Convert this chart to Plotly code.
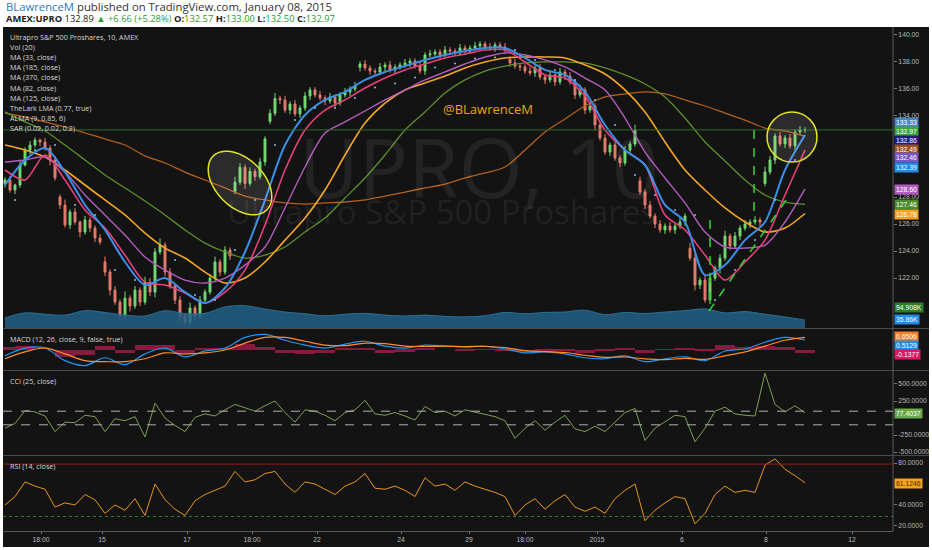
import math
import plotly.graph_objects as go

# ---------------- data ----------------
close = [129.26,128.52,128.89,130.37,131.48,131.85,132.22,132.07,131.63,130.74,
         129.41,127.41,125.93,126.89,126.15,125.41,126.30,125.70,124.96,124.67,
         122.44,121.11,120.22,119.19,120.52,119.93,121.11,120.22,121.70,120.96,
         123.93,124.44,122.44,121.41,120.37,119.19,118.74,119.78,119.19,120.37,
         120.96,122.00,123.19,122.44,124.07,123.63,129.10,130.20,129.00,129.90,
         129.50,130.60,132.30,134.20,135.30,135.19,134.44,134.89,134.15,134.59,
         135.48,135.93,135.56,135.33,135.11,135.41,134.96,135.56,135.78,136.00,
         136.22,137.85,137.56,137.33,137.26,137.63,137.78,137.41,137.63,137.78,
         137.93,138.07,137.70,137.33,138.52,138.59,138.74,138.52,138.89,138.81,
         138.67,139.04,138.81,139.04,139.19,139.33,139.11,139.04,139.26,139.11,
         138.89,137.93,137.70,137.63,137.33,137.19,137.56,136.89,136.67,137.04,
         136.52,137.26,136.96,136.52,135.56,135.93,134.44,134.74,133.33,132.37,
         131.33,131.85,130.89,130.52,131.48,131.93,132.96,128.37,127.41,126.59,
         126.00,125.56,125.85,125.56,125.85,126.15,126.59,123.48,121.48,121.85,
         120.37,122.00,122.74,123.48,125.11,124.37,125.11,125.70,126.00,126.15,
         126.30,126.15,129.85,130.74,132.52,131.93,132.37,131.78,132.81,132.96,
         132.97]
first_open = 129.0
gap_open = {11: 128.0, 20: 123.2, 46: 128.4, 53: 133.6, 71: 137.6,
            101: 138.2, 127: 129.2, 137: 124.2, 152: 129.0}
wick_up = [0.2,0.3,0.1,0.4,0.2,0.3,0.2,0.1,0.3,0.2, 0.3,0.2,0.4,0.2,0.3,0.1,0.3,0.2,0.2,0.3,
           0.4,0.2,0.3,0.2,0.5,0.2,0.3,0.2,0.4,0.3, 0.3,0.5,0.2,0.3,0.2,0.3,0.2,0.4,0.2,0.3,
           0.2,0.3,0.4,0.2,0.3,0.2,0.4,0.3,0.2,0.3, 0.2,0.3,0.2,0.3,0.4,0.2,0.3,0.2,0.3,0.2,
           0.3,0.2,0.2,0.3,0.2,0.3,0.2,0.2,0.3,0.2, 0.3,0.2,0.3,0.2,0.2,0.3,0.2,0.3,0.2,0.2,
           0.3,0.2,0.2,0.3,0.2,0.3,0.2,0.2,0.3,0.2, 0.2,0.3,0.2,0.2,0.3,0.2,0.2,0.3,0.2,0.2,
           0.3,0.2,0.3,0.2,0.2,0.3,0.2,0.3,0.2,0.3, 0.2,0.3,0.2,0.3,0.2,0.4,0.2,0.3,0.2,0.3,
           0.3,0.2,0.4,0.2,0.3,0.2,0.4,0.3,0.2,0.3, 0.2,0.3,0.2,0.3,0.2,0.3,0.2,0.4,0.3,0.2,
           0.3,0.4,0.2,0.3,0.4,0.2,0.3,0.2,0.3,0.2, 0.3,0.2,0.4,0.3,0.2,0.3,0.2,0.3,0.2,0.3,
           0.2]
wick_dn = [0.3,0.2,0.3,0.2,0.1,0.3,0.2,0.3,0.2,0.4, 0.2,0.3,0.2,0.3,0.2,0.4,0.2,0.3,0.3,0.2,
           0.3,0.4,0.2,0.3,0.2,0.4,0.2,0.3,0.2,0.3, 0.4,0.2,0.3,0.2,0.3,0.4,0.3,0.2,0.3,0.2,
           0.3,0.2,0.2,0.3,0.2,0.3,0.2,0.2,0.4,0.2, 0.3,0.2,0.3,0.2,0.2,0.3,0.2,0.3,0.2,0.3,
           0.2,0.3,0.2,0.2,0.3,0.2,0.3,0.2,0.2,0.3, 0.2,0.3,0.2,0.3,0.2,0.2,0.3,0.2,0.3,0.2,
           0.2,0.3,0.2,0.2,0.3,0.2,0.2,0.3,0.2,0.3, 0.2,0.2,0.3,0.2,0.2,0.3,0.2,0.2,0.3,0.2,
           0.2,0.3,0.2,0.3,0.2,0.2,0.3,0.2,0.3,0.2, 0.3,0.2,0.3,0.2,0.3,0.2,0.3,0.2,0.4,0.2,
           0.2,0.3,0.2,0.3,0.2,0.3,0.2,0.2,0.3,0.2, 0.3,0.2,0.3,0.2,0.3,0.2,0.3,0.2,0.4,0.3,
           0.2,0.3,0.2,0.4,0.2,0.3,0.2,0.3,0.2,0.3, 0.2,0.3,0.2,0.2,0.3,0.2,0.3,0.2,0.3,0.2,
           0.2]

# moving averages sampled every 4 bars
ma_orange = [131.85,131.48,130.96,130.00,128.89,127.78,126.67,125.33,124.22,123.48,122.44,121.63,122.00,
             123.19,124.81,126.44,128.52,131.11,133.48,134.96,135.93,136.44,136.96,137.56,138.00,138.30,
             138.37,138.37,138.30,137.78,137.11,135.93,134.30,132.07,130.00,128.52,127.19,126.15,125.41,
             125.70,126.78]
ma_green = [134.30,133.56,132.89,131.85,130.74,129.63,128.67,127.70,126.67,125.56,124.59,123.93,123.48,
            123.70,124.30,125.41,126.44,127.93,129.41,131.11,132.96,134.30,135.70,136.67,137.33,137.70,
            137.93,138.00,138.00,137.93,137.56,137.04,136.37,135.41,133.85,132.07,130.67,129.26,128.15,
            127.63,127.46]
ma_brown = [134.22,133.93,133.56,133.19,132.74,132.30,131.85,131.04,130.52,129.85,129.26,128.67,128.07,
            127.78,127.56,127.48,127.56,127.63,127.78,128.07,128.37,128.67,128.96,129.41,129.78,130.22,
            131.48,132.81,133.78,134.74,135.41,135.63,135.78,135.63,135.19,134.74,134.22,133.70,133.11,
            132.89,132.49]
ma_purple = [130.59,130.74,130.96,129.85,128.15,126.67,125.19,123.56,122.59,121.85,121.63,122.00,122.96,
             124.30,127.19,130.22,132.74,133.56,134.37,135.19,135.93,136.67,137.26,137.85,138.37,138.67,
             138.52,138.15,137.63,136.81,135.93,133.85,131.33,129.41,127.56,125.41,124.30,124.22,124.44,
             126.15,128.60]
lma_blue = [128.89,130.74,131.63,129.85,127.41,125.56,123.19,121.48,122.00,120.96,120.15,121.26,123.93,
            127.78,131.85,134.07,135.19,135.78,136.67,137.26,137.70,138.15,138.52,138.81,139.04,139.04,
            138.30,137.41,137.04,135.78,133.33,131.48,130.37,127.41,126.15,122.22,122.96,124.81,126.15,
            130.00,132.59]
ma_pink = [130.00,129.26,131.11,129.26,127.04,125.70,123.70,121.70,121.48,120.89,120.15,120.96,122.59,
           125.93,130.00,132.96,134.44,135.19,136.07,136.81,137.41,137.85,138.30,138.59,138.89,138.89,
           138.00,137.04,136.81,135.48,132.96,131.48,130.37,126.67,125.56,123.70,121.85,123.19,124.81,
           128.15,131.48]
sar = [127.78,131.48,131.85,127.41,126.67,122.59,121.85,121.11,123.33,120.74,120.37,124.07,127.78,
       131.85,133.70,134.59,134.59,135.33,136.11,136.41,136.85,137.59,137.89,138.26,138.33,138.89,
       138.15,137.41,136.67,135.19,133.33,129.63,128.15,127.04,126.67,120.37,122.59,124.81,127.78,
       130.74]
vol_ma_k = [45,68,62,58,78,70,58,54,78,65,66,95,100,85,72,64,55,62,66,58,54,58,52,50,55,70,64,70,72,
            80,60,70,65,72,78,86,68,74,62,50,35.86]

macd = [-0.3,0.1,0.1,-0.55,-0.8,-0.4,-0.75,-0.2,0.1,-0.35,-0.05,0.1,0.65,0.8,0.5,0.25,0.1,0.3,0.45,0.2,
        0.1,0.25,0.2,0.15,0.2,0.05,-0.15,-0.1,-0.2,-0.4,-0.45,-0.3,-0.6,-0.45,-0.35,-0.55,-0.05,0.05,
        0.4,0.65,0.5129]
signal = [-0.45,-0.1,0.1,-0.2,-0.55,-0.6,-0.6,-0.45,-0.15,-0.2,-0.15,0.0,0.35,0.65,0.65,0.45,0.25,0.22,
          0.35,0.33,0.2,0.18,0.2,0.18,0.18,0.12,-0.03,-0.08,-0.13,-0.27,-0.38,-0.36,-0.46,-0.5,-0.43,
          -0.48,-0.3,-0.1,0.2,0.5,0.6506]

cci = [-150,-80,110,90,30,-200,-60,-70,40,20, -200,-10,-40,20,-280,220,0,-110,-200,10,
       60,30,120,200,150,100,180,250,80,-60, 120,100,40,-40,80,120,260,60,40,80,
       30,-30,170,80,100,30,120,90,60,20, -40,-300,-150,-40,-180,-60,40,-160,-200,-120,
       -200,-60,80,140,-330,-150,-60,40,20,-350, -150,100,160,60,40,30,660,200,90,180,
       77.4037]
rsi = [40,48,62,58,55,38,42,40,50,45, 32,40,35,46,30,60,45,36,30,44,
       50,54,58,72,62,64,70,72,60,52, 62,60,55,50,58,62,70,56,55,58,
       54,48,66,58,60,54,62,58,55,52, 48,30,40,46,36,44,50,38,34,38,
       32,46,54,60,25,35,42,48,46,22, 32,50,58,52,54,52,78,84,74,68,
       61.1246]

tick_pos = [7.2, 19.4, 36.4, 49.4, 62.4, 79.2, 92.8, 104.0, 118.4, 135.4, 152.2, 169.4]
tick_text = ["18:00", "15", "17", "18:00", "22", "24", "29", "18:00", "2015", "6", "8", "12"]

# ---------------- derived ----------------
bars = list(range(len(close)))
ma_x = list(range(0, len(close), 4))
sar_x = list(range(2, len(close), 4))
osc_x = list(range(0, len(close), 2))
opens = []
for i, c in enumerate(close):
    if i == 0:
        opens.append(first_open)
    elif i in gap_open:
        opens.append(gap_open[i])
    else:
        opens.append(close[i - 1])
highs = [max(o, c) + w for o, c, w in zip(opens, close, wick_up)]
lows = [min(o, c) - w for o, c, w in zip(opens, close, wick_dn)]
hist = [m - s for m, s in zip(macd, signal)]

# ---------------- layout helpers ----------------
W, H = 932, 550
L, R, T, B = 3, 39, 27, 19
PW, PH = W - L - R, H - T - B
def px_x(p):
    return (p - L) / PW
def px_y(p):
    return (H - B - p) / PH

BAR_PX = 5.0
PRICE_PX = 13.5
def ellipse_path(cx, cy, a, b, ang_deg):
    ang = math.radians(ang_deg)
    pts = []
    for k in range(73):
        t = 2 * math.pi * k / 72
        dx, dy = a * math.cos(t), b * math.sin(t)
        rx = dx * math.cos(ang) - dy * math.sin(ang)
        ry = dx * math.sin(ang) + dy * math.cos(ang)
        pts.append((cx + rx / BAR_PX, cy - ry / PRICE_PX))
    return "M " + " L ".join(f"{x:.3f},{y:.3f}" for x, y in pts) + " Z"

AX_FONT = dict(family="Liberation Sans, Arial", size=6.8, color="#b8b8b8")
TXT_FONT = "Open Sans, Liberation Sans, Arial"

fig = go.Figure()

fig.add_trace(go.Scatter(x=ma_x, y=vol_ma_k, yaxis="y5", mode="lines", line=dict(color="#2a6f96", width=1, shape="spline"),
                         fill="tozeroy", fillcolor="rgba(34,96,135,0.85)", hoverinfo="skip"))

for ys, col, w in [(ma_brown, "#b5601c", 1.3), (ma_green, "#5e8f2c", 1.3), (ma_orange, "#f5a623", 1.6),
                   (ma_purple, "#b45cc0", 1.4), (ma_pink, "#e8407c", 1.6), (lma_blue, "#3b8fe8", 2.0)]:
    fig.add_trace(go.Scatter(x=ma_x, y=ys, mode="lines", line=dict(color=col, width=w, shape="spline", smoothing=0.8),
                             hoverinfo="skip"))
fig.add_trace(go.Scatter(x=sar_x, y=sar, mode="markers", marker=dict(color="#8fb8dc", size=2), hoverinfo="skip"))

fig.add_trace(go.Candlestick(x=bars, open=opens, high=highs, low=lows, close=close,
                             increasing=dict(line=dict(color="#72d872", width=1), fillcolor="#72d872"),
                             decreasing=dict(line=dict(color="#e67c6b", width=1), fillcolor="#e67c6b"),
                             whiskerwidth=0, hoverinfo="skip"))

fig.add_trace(go.Bar(x=ma_x, y=hist, yaxis="y2", marker=dict(color="#e91e63", line=dict(width=0)), width=4.0,
                     opacity=0.55, hoverinfo="skip"))
fig.add_trace(go.Scatter(x=ma_x, y=macd, yaxis="y2", mode="lines", line=dict(color="#2196f3", width=1.2, shape="spline"),
                         hoverinfo="skip"))
fig.add_trace(go.Scatter(x=ma_x, y=signal, yaxis="y2", mode="lines", line=dict(color="#ff8c29", width=1.2, shape="spline"),
                         hoverinfo="skip"))
fig.add_trace(go.Scatter(x=osc_x, y=cci, yaxis="y3", mode="lines", line=dict(color="#7f9f50", width=1),
                         hoverinfo="skip"))
fig.add_trace(go.Scatter(x=osc_x, y=rsi, yaxis="y4", mode="lines", line=dict(color="#e8951f", width=1),
                         hoverinfo="skip"))

shapes = []
shapes.append(dict(type="rect", xref="paper", yref="paper", x0=px_x(3), x1=px_x(929), y0=px_y(547), y1=px_y(27),
                   fillcolor="#131313", line=dict(width=0), layer="below"))
for p in [328.5, 370.5, 455.5]:
    shapes.append(dict(type="line", xref="paper", yref="paper", x0=px_x(3), x1=px_x(929), y0=px_y(p), y1=px_y(p),
                       line=dict(color="#4a4a4a", width=1)))
shapes.append(dict(type="line", xref="paper", yref="paper", x0=1, x1=1, y0=0, y1=1, line=dict(color="#5a5a5a", width=1)))
shapes.append(dict(type="line", xref="paper", yref="y", x0=0, x1=1, y0=132.97, y1=132.97, line=dict(color="#2f6a2a", width=1)))
for v in [100, -100]:
    shapes.append(dict(type="line", xref="paper", yref="y3", x0=0, x1=1, y0=v, y1=v,
                       line=dict(color="#b0b0b0", width=1, dash="dash")))
shapes.append(dict(type="line", xref="paper", yref="y4", x0=0, x1=1, y0=79, y1=79, line=dict(color="#a01818", width=1)))
shapes.append(dict(type="line", xref="paper", yref="y4", x0=0, x1=1, y0=29, y1=29,
                   line=dict(color="#2e7d32", width=1, dash="dot")))
shapes.append(dict(type="path", xref="x", yref="y", path=ellipse_path(47.0, 129.04, 38, 24, 45),
                   fillcolor="rgba(255,255,255,0.10)", line=dict(color="#e3e32a", width=1.5)))
shapes.append(dict(type="circle", xref="x", yref="y", x0=152.4, x1=162.4, y0=130.59, y1=134.29,
                   fillcolor="rgba(255,255,255,0.10)", line=dict(color="#e3e32a", width=1.5)))
for x0, y0, x1, y1 in [(141.0, 126.3, 141.0, 120.0), (149.8, 132.96, 149.8, 126.15), (140.8, 119.56, 157.1, 128.24)]:
    shapes.append(dict(type="line", xref="x", yref="y", x0=x0, y0=y0, x1=x1, y1=y1,
                       line=dict(color="#33cc33", width=1.6, dash="dash")))

ann = []
def note(xp, yp, text, size, color, xanchor="left", family=TXT_FONT, **kw):
    ann.append(dict(xref="paper", yref="paper", x=px_x(xp), y=px_y(yp), xanchor=xanchor, yanchor="middle",
                    showarrow=False, text=text, font=dict(family=family, size=size, color=color), **kw))

note(4, 7, '<span style="color:#2a78c8">BLawrenceM</span> published on TradingView.com, January 08, 2015', 11.3, "#333333")
g = "#2e9e2e"
note(4, 18, (f'<b>AMEX:UPRO</b> 132.89 <span style="color:{g}">▲ +6.66 (+5.28%)</span> '
             f'<b>O:</b><span style="color:{g}">132.57</span> <b>H:</b><span style="color:{g}">133.00</span> '
             f'<b>L:</b><span style="color:{g}">132.50</span> <b>C:</b><span style="color:{g}">132.97</span>'),
     9.4, "#222222")
legend_lines = ["Ultrapro S&P 500 Proshares, 10, AMEX", "Vol (20)", "MA (33, close)", "MA (185, close)",
                "MA (370, close)", "MA (82, close)", "MA (125, close)", "TheLark LMA (0.77, true)",
                "ALMA (9, 0.85, 6)", "SAR (0.02, 0.02, 0.2)"]
for k, t in enumerate(legend_lines):
    note(8, 37 + 10.1 * k, t, 7.2, "#d6d6d6")
for t, p in [("MACD (12, 26, close, 9, false, true)", 339), ("CCI (25, close)", 381), ("RSI (14, close)", 466)]:
    note(8, p, t, 7.2, "#d6d6d6")
note(479, 166, "UPRO, 10", 82, "rgba(255,255,255,0.07)", xanchor="center")
note(441, 211, "Ultrapro S&P 500 Proshares", 33, "rgba(255,255,255,0.07)", xanchor="center")
note(488, 109, "@BLawrenceM", 13, "#e8a317", xanchor="center")

labels = [("133.33", "#4b84c4", "white", 122), ("132.97", "#3aa53f", "white", 131), ("132.86", "#1a1f80", "white", 140),
          ("132.49", "#9c5220", "white", 149), ("132.46", "#7a55c4", "white", 158), ("132.39", "#1e8ce8", "white", 167),
          ("128.60", "#b25ec0", "white", 190), ("127.46", "#4d8a2a", "white", 205), ("126.78", "#f7a21f", "white", 214),
          ("94.908K", "#2a7f2a", "white", 307), ("35.86K", "#1e8ce8", "white", 320),
          ("0.6506", "#f58025", "white", 336), ("0.5129", "#1e8ce8", "white", 345), ("-0.1377", "#e0185f", "white", 354),
          ("77.4037", "#6aa84f", "white", 413), ("61.1246", "#f5a21c", "#4a2a00", 483)]
for t, bg, fc, p in labels:
    note(893.5, p, t, 6.8, fc, family="Liberation Sans, Arial", bgcolor=bg, borderpad=1)

def yax(domain, rng, tv=None, tt=None):
    d = dict(domain=domain, range=rng, anchor="x", side="right", showgrid=False, zeroline=False,
             fixedrange=True, tickfont=AX_FONT, ticks="outside" if tv else "", ticklen=3, tickcolor="#777")
    if tv:
        d.update(tickmode="array", tickvals=tv, ticktext=tt)
    else:
        d.update(showticklabels=False)
    return d

main_dom = [px_y(328), 1]
fig.update_layout(
    width=W, height=H, margin=dict(l=L, r=R, t=T, b=B),
    paper_bgcolor="#ffffff", plot_bgcolor="#131313", showlegend=False, boxgap=0.45,
    xaxis=dict(domain=[0, 1], anchor="y4", range=[-0.4, (W - R - 5) / 5.0], rangeslider=dict(visible=False),
               showgrid=False, zeroline=False, showline=True, linecolor="#5a5a5a", ticks="outside", ticklen=2,
               tickcolor="#777", tickmode="array", tickvals=tick_pos, ticktext=tick_text, tickfont=AX_FONT,
               fixedrange=True),
    yaxis=yax(main_dom, [118.30, 140.59], [122, 124, 126, 128, 134, 136, 138, 140],
              ["122.00", "124.00", "126.00", "128.00", "134.00", "136.00", "138.00", "140.00"]),
    yaxis5=dict(domain=main_dom, range=[0, (328 - 27) * 4.5], overlaying="y", anchor="x", visible=False),
    yaxis2=yax([px_y(370), px_y(329)], [-1.03, 1.08]),
    yaxis3=yax([px_y(455), px_y(371)], [-544, 691], [-500, -250, 250, 500],
               ["-500.0000", "-250.0000", "250.0000", "500.0000"]),
    yaxis4=yax([0, px_y(456)], [15.2, 86.7], [20, 40, 80], ["20.0000", "40.0000", "80.0000"]),
    shapes=shapes, annotations=ann, bargap=0,
)

fig.write_html("out.html", config={"displayModeBar": False},
               post_script="document.body.style.margin='0';document.body.style.background='#ffffff';")
